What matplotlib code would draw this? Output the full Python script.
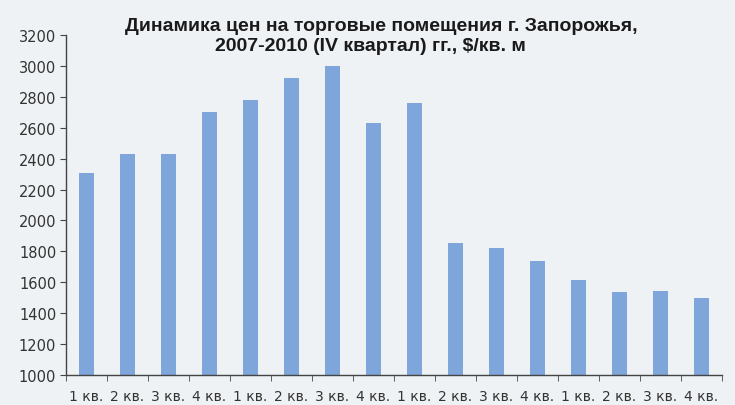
import matplotlib
matplotlib.use("Agg")
import matplotlib.pyplot as plt
import numpy as np

categories = ["1 кв.", "2 кв.", "3 кв.", "4 кв."] * 4
values = [2310, 2430, 2430, 2700, 2780, 2920, 3000, 2630,
          2760, 1855, 1825, 1735, 1615, 1540, 1545, 1500]
yticks = list(range(1000, 3201, 200))
title_lines = ["Динамика цен на торговые помещения г. Запорожья,",
               "2007-2010 (IV квартал) гг., $/кв. м"]

bg = "#eef2f4"
fig = plt.figure(figsize=(7.35, 4.06), dpi=100, facecolor=bg)
ax = fig.add_axes([66/735, 30/406, (722-66)/735, (376-36)/406], facecolor=bg)

x = np.arange(len(values))
ax.bar(x, values, width=0.37, color="#7ea6da", zorder=2)
ax.set_ylim(1000, 3200)
ax.set_xlim(-0.5, len(values) - 0.5)
ax.set_yticks(yticks)
ax.set_yticklabels([str(t) for t in yticks], fontsize=10.5, color="#333333")
ax.set_xticks(x)
ax.set_xticklabels(categories, fontsize=10, color="#333333")
ax.set_xticks(np.arange(-0.5, len(values), 1), minor=True)
ax.tick_params(axis="x", which="major", length=0, pad=10)
ax.tick_params(axis="x", which="minor", length=4, color="#444444")
ax.tick_params(axis="y", length=4, color="#444444", pad=3)
for s in ["top", "right"]:
    ax.spines[s].set_visible(False)
for s in ["left", "bottom"]:
    ax.spines[s].set_color("#444444")
    ax.spines[s].set_linewidth(1.0)

for (cx, by), line in zip([(381, 31), (370, 51)], title_lines):
    fig.text(cx/735, 1 - by/406, line, ha="center", va="baseline", fontsize=14,
             fontweight="bold", family="Liberation Sans", color="#1a1a1a")

fig.savefig("out.png", dpi=100, facecolor=bg)
